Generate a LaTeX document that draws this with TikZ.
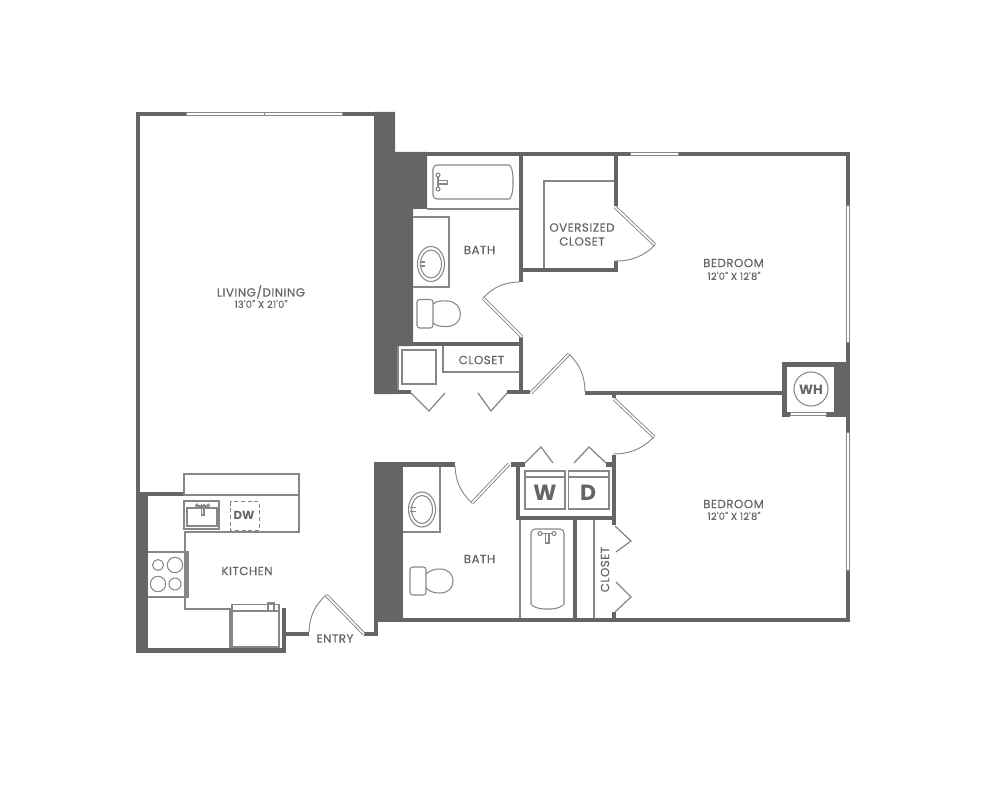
\documentclass[tikz,border=0pt]{standalone}
\usepackage{fontspec}
\setmainfont{Poppins}
\newfontfamily\lblfont[LetterSpace=4,FakeBold=0.25]{Poppins}
\newfontfamily\dimfont[LetterSpace=2.5,FakeBold=0.15]{Poppins}
\usetikzlibrary{calc}
\definecolor{wallc}{HTML}{636665}
\definecolor{linec}{HTML}{858887}
\tikzset{
  wall/.style={fill=wallc,draw=none},
  thin line/.style={draw=linec,line width=0.8pt,fill=none},
  thick line/.style={draw=linec,line width=0.95pt,fill=none},
  leaf/.style={draw=linec,line width=0.7pt,double=white,double distance=1.2pt},
  swing/.style={draw=linec,line width=0.7pt},
  label/.style={text=wallc,font=\lblfont\fontsize{8.9}{10.5}\selectfont,inner sep=0pt,align=center},
  dims/.style={text=wallc,font=\dimfont\fontsize{7.4}{8}\selectfont,inner sep=0pt},
  bold label/.style={text=wallc,font=\fontsize{16.5}{18}\selectfont\bfseries,inner sep=0pt},
  small bold/.style={text=wallc,font=\fontsize{8.8}{10}\selectfont\bfseries,inner sep=0pt},
  winpane/.style={fill=white,draw=linec,line width=0.6pt}
}
\newcommand{\wl}[4]{\fill[wall] (#1,#2) rectangle (#3,#4);}
\newcommand{\win}[4]{\path[winpane] (#1,#2) rectangle (#3,#4);}
\begin{document}
\begin{tikzpicture}[x=0.75pt,y=-0.75pt]
\useasboundingbox (0,0) rectangle (1000,788);
% thick masses
\fill[wall] (374,112)--(395,112)--(395,152)--(427,152)--(427,209)--(413,209)--(413,346)--(398,346)--(398,394)--(374,394)--cycle;
\wl{374}{462}{403}{622}
% living
\wl{136}{112}{395}{116}
\wl{136}{112}{140}{653}
% exterior top and right
\wl{395}{152}{850}{156}
\wl{846}{152}{850}{622}
% bath 1 and closets
\wl{518.5}{156}{522.5}{282}
\wl{518.5}{337}{522.5}{394}
\wl{413}{342}{522.5}{346}
\wl{398}{390}{411}{394}
\wl{507}{390}{530}{394}
\wl{585}{390.5}{782}{394.5}
% oversized closet
\wl{614}{156}{618}{206}
\wl{522}{267.5}{618}{272}
\wl{614}{261}{618}{272}
% water heater
\wl{782}{362}{847}{367}
\wl{782}{362}{787}{417}
\wl{834}{362}{847}{417}
\wl{782}{412}{790}{417}
\wl{826}{412}{847}{417}
% lower walls
\wl{612}{394}{616}{398}
\wl{612}{455}{616}{525}
\wl{515.5}{462}{520}{520}
\wl{511}{462}{525}{467}
\wl{606}{462}{616}{467}
\wl{515.5}{516}{616}{520}
\wl{573}{520}{577}{618}
\wl{612}{612}{616}{618}
\wl{374}{618}{850}{622}
\wl{403}{462}{455}{467}
% entry and kitchen
\wl{374}{622}{378}{636}
\wl{364}{632}{378}{636}
\wl{286}{632}{309}{636}
\wl{282}{608}{286}{653}
\wl{136}{648}{286}{653}
\wl{136}{492}{148}{653}
\wl{140}{492}{184}{496}
% windows
\win{186}{112.6}{264}{115.4}
\win{264}{112.6}{342}{115.4}
\win{630}{152.6}{678}{155.4}
\win{846.6}{205}{849.4}{342}
\win{846.6}{432}{849.4}{570}
\win{790}{412.6}{826}{415.4}
% doors
\coordinate (h1) at (522,337); \coordinate (e1) at (483,298); \coordinate (a1) at (519,282);
\draw[leaf] (h1)--(e1); \draw[swing] (e1) to[bend left=22] (a1);
\coordinate (h2) at (531,393); \coordinate (e2) at (569,354); \coordinate (a2) at (585,392);
\draw[leaf] (h2)--(e2); \draw[swing] (e2) to[bend left=22] (a2);
\coordinate (h3) at (615,207); \coordinate (e3) at (655,245); \coordinate (a3) at (615,261);
\draw[leaf] (h3)--(e3); \draw[swing] (e3) to[bend left=22] (a3);
\coordinate (h4) at (614,399); \coordinate (e4) at (654,437); \coordinate (a4) at (613,454);
\draw[leaf] (h4)--(e4); \draw[swing] (e4) to[bend left=22] (a4);
\coordinate (h5) at (509,464); \coordinate (e5) at (472,503); \coordinate (a5) at (455,466);
\draw[leaf] (h5)--(e5); \draw[swing] (e5) to[bend left=22] (a5);
\coordinate (h6) at (364,634); \coordinate (e6) at (326,595); \coordinate (a6) at (309,632);
\draw[leaf] (h6)--(e6); \draw[swing] (e6) to[bend right=22] (a6);
% folding doors
\draw[thick line] (411,393)--(429,411)--(445,393);
\draw[thick line] (478,393)--(491,411)--(507,393);
\draw[thick line] (525,463)--(541,447)--(553,463);
\draw[thick line] (574,463)--(589,447)--(606,463);
\draw[thick line] (615,526)--(631,541)--(616,552);
\draw[thick line] (616,582)--(631,597)--(615,612);
% bath 1 fixtures
\draw[thin line] (427,209)--(518.5,209);
\draw[thin line] (413,217)--(449,217)--(449,287)--(413,287);
\draw[thin line,rounded corners=3pt] (433,165)--(505,165) .. controls (511,165) and (513,172) .. (513,182) .. controls (513,192) and (511,199) .. (505,199)--(433,199)--cycle;
\draw[thin line] (438,175)--(438,189);
\draw[thin line,fill=white] (438,175) circle (2);
\draw[thin line,fill=white] (438,189) circle (2);
\draw[thin line] (438,180.5)--(447.5,180.5)--(447.5,184)--(438,184);
\draw[thin line] (431,264) ellipse (13.5 and 17.5);
\draw[thin line] (431,264) ellipse (10.5 and 14);
\draw[thin line] (420,262)--(425,262) (420,266)--(425,266);
\draw[thin line,rounded corners=2pt] (417,299.5) rectangle (433,328);
\draw[thin line] (433,304) .. controls (438,300) and (443,301) .. (447,301) .. controls (455,301) and (460.5,307) .. (460.5,314) .. controls (460.5,321) and (455,326.5) .. (447,326.5) .. controls (443,326.5) and (438,327) .. (433,323);
% closet 1
\draw[thin line] (518.5,372)--(443,372)--(443,346);
\draw[thin line] (402,350) rectangle (436,384);
\draw[thin line] (398,346)--(398,390);
% oversized closet inner
\draw[thin line] (614,181)--(544,181)--(544,267.5);
% water heater circle
\draw[thin line] (811,389) circle (17);
% washer dryer
\draw[thin line] (525,471) rectangle (565,509);
\draw[thin line] (525,477)--(565,477);
\draw[thin line] (568.5,471) rectangle (609,509);
\draw[thin line] (568.5,477)--(609,477);
% bath 2 fixtures
\draw[thin line] (403,532)--(440,532)--(440,467);
\draw[thin line] (422,509.5) ellipse (13.5 and 17.5);
\draw[thin line] (422,509.5) ellipse (10.5 and 14);
\draw[thin line] (410,507.5)--(416,507.5) (410,511.5)--(416,511.5);
\draw[thin line,rounded corners=2pt] (410,567) rectangle (426,595);
\draw[thin line] (426,574) .. controls (430,570) and (435,569) .. (440,569) .. controls (448,569) and (453,574) .. (453,581) .. controls (453,588) and (448,593) .. (440,593) .. controls (435,593) and (430,592) .. (426,588);
% tub 2
\draw[thin line] (520,520)--(520,618);
\draw[thin line] (594,520)--(594,618);
\draw[thin line,rounded corners=3pt] (531,529)--(564,529)--(564,600) .. controls (564,606) and (556,609) .. (547.5,609) .. controls (539,609) and (531,606) .. (531,600)--cycle;
\draw[thin line] (540,533.5)--(554,533.5);
\draw[thin line,fill=white] (540,533.5) circle (2);
\draw[thin line,fill=white] (554,533.5) circle (2);
\draw[thin line] (545.5,533.5)--(545.5,543)--(549,543)--(549,533.5);
% kitchen
\draw[thin line] (184,495)--(184,474)--(299,474)--(299,532)--(185,532)--(185,609)--(230,609)--(230,648);
\draw[thin line] (184,495)--(299,495);
\draw[thin line] (184,501) rectangle (219,529);
\draw[thin line] (187,508) rectangle (217,526);
\draw[thin line] (201.5,504)--(201.5,515)--(204,515)--(204,504);
\draw[thin line] (197,506)--(208,506);
\draw[thin line,fill=white] (197,505.5) circle (1.5);
\draw[thin line,fill=white] (208,505.5) circle (1.5);
\draw[draw=linec,line width=0.6pt,densely dashed] (230,501.5) rectangle (259,530);
\draw[thin line] (148,552)--(188,552)--(188,597)--(148,597);
\draw[thin line] (186,552)--(186,597);
\draw[thin line] (158,565) circle (5.5);
\draw[thin line] (175,565) circle (7.7);
\draw[thin line] (158,584) circle (7.7);
\draw[thin line] (175,584) circle (6);
\draw[thin line] (232,604.5) rectangle (279,647);
\draw[thin line] (232,611)--(279,611);
\draw[thin line] (268,603) rectangle (274,611);
% text
\node[label] (livinglab) at (261,292) {LIVING/DINING};
\node[dims] (livingdim) at (261,304) {13'0" X 21'0"};
\node[label] (kitchenlab) at (247,571) {KITCHEN};
\node[label] (entrylab) at (335,638.5) {ENTRY};
\node[label] (bath1lab) at (479.5,250) {BATH};
\node[label] (bath2lab) at (479.5,559) {BATH};
\node[label] (closet1lab) at (481.5,360) {CLOSET};
\node[label] (closet2lab) at (605,569.5) [rotate=90] {CLOSET};
\node[label] (overlab) at (582,234.5) {OVERSIZED\\CLOSET};
\node[label] (bed1lab) at (733.5,263) {BEDROOM};
\node[dims] (bed1dim) at (734,276) {12'0" X 12'8"};
\node[label] (bed2lab) at (733.5,504) {BEDROOM};
\node[dims] (bed2dim) at (734,516) {12'0" X 12'8"};
\node[bold label] (wlab) at (545,493) {W};
\node[bold label] (dlab) at (588,493) {D};
\node[small bold] (dwlab) at (244,515.5) {DW};
\node[text=wallc,font=\fontsize{10}{12}\selectfont\bfseries,inner sep=0pt] (whlab) at (811,390) {WH};
\end{tikzpicture}
\end{document}
